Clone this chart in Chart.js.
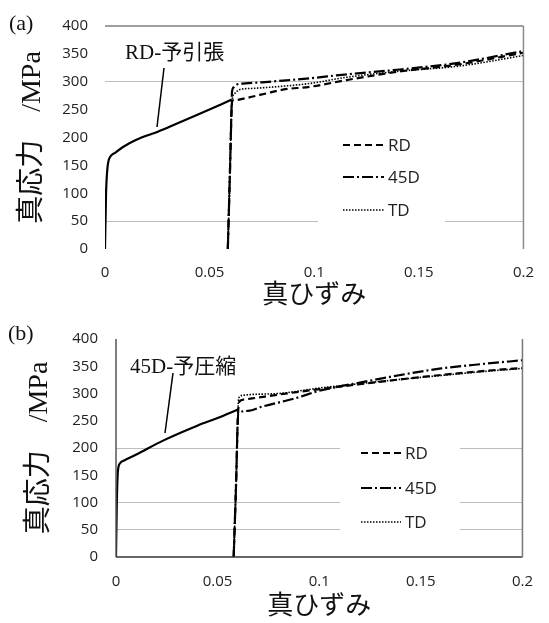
<!DOCTYPE html>
<html>
<head>
<meta charset="utf-8">
<script src="https://cdn.jsdelivr.net/npm/chart.js@4.4.0/dist/chart.umd.min.js"></script>
<style>
  body { margin: 0; background: #fff; }
  #wrap { position: relative; width: 549px; height: 623px; }
  .panel { position: absolute; left: 0; width: 549px; }
</style>
</head>
<body>
<div id="wrap">
  <div class="panel" style="top:0;height:312px"><canvas id="chart-a"></canvas></div>
  <div class="panel" style="top:312px;height:311px"><canvas id="chart-b"></canvas></div>
</div>
<script>
// Axis ticks
const STRAIN_TICKS = [0, 0.05, 0.1, 0.15, 0.2];
const STRAIN_TICK_LABELS = ['0', '0.05', '0.1', '0.15', '0.2'];
const STRESS_TICKS = [0, 50, 100, 150, 200, 250, 300, 350, 400];
const SERIES_LABELS = ['RD', '45D', 'TD'];

// (a) RD pre-tension, then reloading in RD / 45D / TD
const preStrainA = [0, 0.0005, 0.001, 0.0015, 0.0024, 0.005, 0.0086, 0.015, 0.025, 0.035, 0.045, 0.0606];
const preStressA = [0, 100, 138, 155, 165, 173, 183, 196, 210, 226, 242, 268];
const rdStrainA = [0.0587, 0.0598, 0.0604, 0.0608, 0.062, 0.0678, 0.077, 0.085, 0.098, 0.1155, 0.14, 0.169, 0.2];
const rdStressA = [0, 150, 240, 266, 267, 271, 279, 286, 291, 303, 318, 331, 352];
const d45StrainA = [0.0587, 0.0598, 0.0604, 0.0607, 0.0615, 0.063, 0.067, 0.075, 0.085, 0.1, 0.112, 0.141, 0.169, 0.2];
const d45StressA = [0, 150, 240, 282, 290, 295, 297, 299, 302, 307, 312, 322, 334, 355];
const tdStrainA = [0.0587, 0.0598, 0.0604, 0.0608, 0.062, 0.0644, 0.07, 0.085, 0.098, 0.1155, 0.141, 0.169, 0.2];
const tdStressA = [0, 150, 240, 268, 279, 286, 288, 292, 297, 308, 319, 328, 347];

// (b) 45D pre-compression, then reloading
const preStrainB = [0, 0.0004, 0.0008, 0.0012, 0.002, 0.004, 0.01, 0.0234, 0.04, 0.05, 0.0603];
const preStressB = [0, 100, 150, 165, 172, 177, 188, 214, 241, 255, 271];
const rdStrainB = [0.0579, 0.0592, 0.0598, 0.0602, 0.0607, 0.063, 0.067, 0.08, 0.1, 0.12, 0.14, 0.16, 0.18, 0.2];
const rdStressB = [0, 150, 240, 272, 285, 289, 291, 298, 308, 317, 326, 334, 341, 347];
const d45StrainB = [0.0579, 0.0592, 0.0598, 0.0603, 0.065, 0.072, 0.088, 0.1, 0.11, 0.12, 0.14, 0.16, 0.18, 0.2];
const d45StressB = [0, 150, 240, 264, 268, 276, 291, 305, 313, 320, 334, 346, 354, 361];
const tdStrainB = [0.0579, 0.0592, 0.0598, 0.0603, 0.061, 0.063, 0.08, 0.1, 0.12, 0.14, 0.16, 0.18, 0.2];
const tdStressB = [0, 150, 240, 288, 295, 297, 300, 310, 318, 326, 333, 340, 346];

const zip = (xs, ys) => xs.map((x, i) => ({ x, y: ys[i] }));

const TICK_FONT = { family: "'Open Sans', sans-serif", size: 15 };
const JP_SERIF = "'Liberation Serif', 'Noto Sans CJK JP', serif";

// Draws selected sides of the plot frame
const framePlugin = {
  id: 'frame',
  afterDraw(chart, args, opts) {
    const { ctx, chartArea: a } = chart;
    ctx.save();
    (opts.sides || []).forEach(s => {
      ctx.strokeStyle = s.color; ctx.lineWidth = s.width;
      ctx.beginPath();
      if (s.side === 'top') { ctx.moveTo(a.left, a.top); ctx.lineTo(a.right, a.top); }
      if (s.side === 'bottom') { ctx.moveTo(a.left, a.bottom); ctx.lineTo(a.right, a.bottom); }
      if (s.side === 'left') { ctx.moveTo(a.left, a.top); ctx.lineTo(a.left, a.bottom); }
      if (s.side === 'right') { ctx.moveTo(a.right, a.top); ctx.lineTo(a.right, a.bottom); }
      ctx.stroke();
    });
    ctx.restore();
  }
};

// White legend box inside the plot (covers grid lines, not the data)
const boxLegendPlugin = {
  id: 'boxLegend',
  beforeDatasetsDraw(chart, args, opts) {
    const { ctx } = chart;
    ctx.save();
    ctx.fillStyle = '#fff';
    ctx.fillRect(opts.box[0], opts.box[1], opts.box[2], opts.box[3]);
    const items = chart.data.datasets.filter(d => d.inLegend);
    items.forEach((d, i) => {
      const y = opts.rows[i];
      ctx.strokeStyle = '#000';
      ctx.lineWidth = d.borderWidth;
      ctx.setLineDash(d.borderDash || []);
      ctx.beginPath();
      ctx.moveTo(opts.lineX[0], y); ctx.lineTo(opts.lineX[1], y);
      ctx.stroke();
      ctx.setLineDash([]);
      ctx.fillStyle = '#222';
      ctx.font = "17px 'Open Sans', sans-serif";
      ctx.textBaseline = 'middle';
      ctx.fillText(d.label, opts.textX, y + 1);
    });
    ctx.restore();
  }
};

// Panel tag and callout text with leader line
const calloutPlugin = {
  id: 'callout',
  afterDraw(chart, args, opts) {
    const { ctx } = chart;
    ctx.save();
    ctx.fillStyle = '#111';
    ctx.textBaseline = 'middle';
    ctx.font = '22px ' + JP_SERIF;
    ctx.fillText(opts.tag, opts.tagPos[0], opts.tagPos[1]);
    ctx.font = '21px ' + JP_SERIF;
    ctx.fillText(opts.text, opts.textPos[0], opts.textPos[1]);
    ctx.strokeStyle = '#000'; ctx.lineWidth = 1.5;
    ctx.beginPath();
    ctx.moveTo(opts.line[0], opts.line[1]); ctx.lineTo(opts.line[2], opts.line[3]);
    ctx.stroke();
    ctx.restore();
  }
};

function makeDatasets(pre, rd, d45, td) {
  const base = { borderColor: '#000', pointRadius: 0, fill: false, cubicInterpolationMode: 'monotone' };
  return [
    { ...base, label: 'pre', data: pre, borderWidth: 2.2 },
    { ...base, label: SERIES_LABELS[0], data: rd, borderWidth: 2.2, borderDash: [7, 4], inLegend: true },
    { ...base, label: SERIES_LABELS[1], data: d45, borderWidth: 2.2, borderDash: [11, 3, 2, 3], inLegend: true },
    { ...base, label: SERIES_LABELS[2], data: td, borderWidth: 1.6, borderDash: [1.5, 1.5], inLegend: true },
  ];
}

function makeChart(id, datasets, cfg) {
  const ctx = document.getElementById(id);
  return new Chart(ctx, {
    type: 'line',
    data: { datasets },
    options: {
      responsive: true, maintainAspectRatio: false, animation: false,
      layout: { padding: { top: cfg.padTop, right: cfg.padRight, left: 0, bottom: 0 } },
      plugins: {
        legend: { display: false }, tooltip: { enabled: false },
        frame: { sides: cfg.sides },
        boxLegend: cfg.legend,
        callout: cfg.callout
      },
      scales: {
        x: {
          type: 'linear', min: 0, max: 0.2,
          afterBuildTicks: s => { s.ticks = STRAIN_TICKS.map(v => ({ value: v })); },
          afterFit: s => { s.height = cfg.xAxisHeight; },
          ticks: { callback: (v, i) => STRAIN_TICK_LABELS[i], font: TICK_FONT, color: '#222', padding: cfg.xTickPad, maxRotation: 0 },
          grid: { display: false, drawTicks: false },
          border: { display: false },
          title: { display: true, text: '真ひずみ', font: { family: JP_SERIF, size: 26 }, color: '#111', padding: { top: 0, bottom: 0 } }
        },
        y: {
          type: 'linear', min: 0, max: 400,
          afterBuildTicks: s => { s.ticks = STRESS_TICKS.map(v => ({ value: v })); },
          afterFit: s => { s.width = cfg.yAxisWidth; },
          ticks: { font: TICK_FONT, color: '#222', padding: cfg.yTickPad },
          grid: { drawTicks: false, lineWidth: 1, color: c => cfg.gridAt.includes(c.tick && c.tick.value) ? '#bdbdbd' : 'rgba(0,0,0,0)' },
          border: { display: false },
          title: { display: true, text: '真応力　/MPa', font: { family: JP_SERIF, size: 28 }, color: '#111', padding: { top: cfg.yTitlePad, bottom: 0 } }
        }
      }
    },
    plugins: [framePlugin, boxLegendPlugin, calloutPlugin]
  });
}

makeChart('chart-a',
  makeDatasets(zip(preStrainA, preStressA), zip(rdStrainA, rdStressA), zip(d45StrainA, d45StressA), zip(tdStrainA, tdStressA)),
  {
    padTop: 17, padRight: 25, yAxisWidth: 105, xAxisHeight: 63, xTickPad: 15, yTickPad: 17, yTitlePad: 16,
    gridAt: [50, 300],
    sides: [{ side: 'top', color: '#7f7f7f', width: 1.5 }, { side: 'right', color: '#8c8c8c', width: 1.5 }],
    legend: { box: [318, 126, 127, 102], rows: [145, 177, 210], lineX: [343, 384], textX: 388 },
    callout: { tag: '(a)', tagPos: [9, 24], text: 'RD-予引張', textPos: [125, 53], line: [164, 68, 157, 127] }
  });

makeChart('chart-b',
  makeDatasets(zip(preStrainB, preStressB), zip(rdStrainB, rdStressB), zip(d45StrainB, d45StressB), zip(tdStrainB, tdStressB)),
  {
    padTop: 13, padRight: 15, yAxisWidth: 116, xAxisHeight: 66, xTickPad: 16, yTickPad: 18, yTitlePad: 23,
    gridAt: [50, 100, 200],
    sides: [{ side: 'left', color: '#555', width: 1.5 }, { side: 'bottom', color: '#333', width: 1.5 }, { side: 'right', color: '#777', width: 1.5 }],
    legend: { box: [340, 124, 120, 100], rows: [141, 176, 210], lineX: [361, 401], textX: 405 },
    callout: { tag: '(b)', tagPos: [8, 22], text: '45D-予圧縮', textPos: [130, 55], line: [173, 61, 165, 121] }
  });
</script>
</body>
</html>
